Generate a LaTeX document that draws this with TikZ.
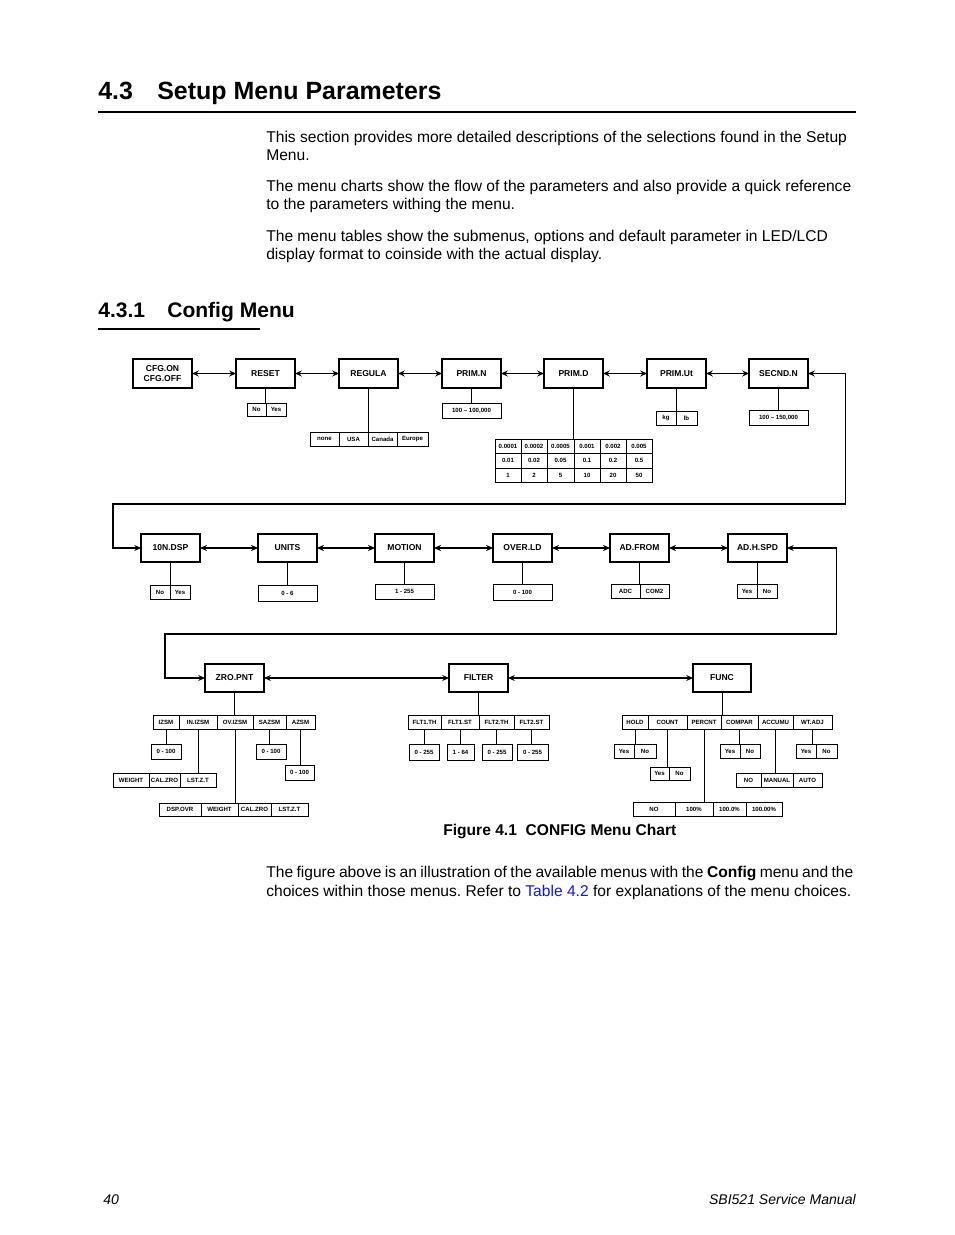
\documentclass[tikz,border=0pt]{standalone}
\usepackage{fontspec}
\setmainfont{Liberation Sans}
\usetikzlibrary{arrows.meta}
\definecolor{tblue}{RGB}{20,20,230}
\def\pxu{0.6414pt}
\frenchspacing
\newcommand\bx[7]{\node[#1, minimum width={(#5-#3)*\pxu}, minimum height={(#6-#4)*\pxu}] (#2) at ({(#3+#5)/2},{(#4+#6)/2}) {#7};}
\tikzset{
  mainbox/.style={draw, line width=0.85pt, inner sep=0pt, outer sep=0pt, align=center, font=\bfseries\fontsize{5.5}{6.4}\selectfont},
  cell/.style={draw, line width=0.55pt, inner sep=0pt, outer sep=0pt, font=\bfseries\fontsize{3.9}{4.5}\selectfont},
  arr/.style={{Stealth[length=4.3pt,width=3.8pt]}-{Stealth[length=4.3pt,width=3.8pt]}, line width=0.65pt},
  arrthick/.style={{Stealth[length=4.5pt,width=4pt]}-{Stealth[length=4.5pt,width=4pt]}, line width=1.2pt},
  sub/.style={line width=0.6pt},
  txt/.style={anchor=base west, inner sep=0pt, font=\fontsize{10}{12}\selectfont},
  h1/.style={anchor=base west, inner sep=0pt, font=\bfseries\fontsize{16}{19}\selectfont},
  h2/.style={anchor=base west, inner sep=0pt, font=\bfseries\fontsize{13.5}{16}\selectfont},
}
\begin{document}
\begin{tikzpicture}[x=\pxu, y=-\pxu]
\path[use as bounding box, fill=white] (0,0) rectangle (954,1235);

% headings and text
\node[h1] (h1num) at (98,100) {4.3};
\node[h1] (h1txt) at (157,100) {Setup Menu Parameters};
\draw[line width=1.6pt] (98,112) -- (856,112);
\node[txt] (p1a) at (266,143) {This section provides more detailed descriptions of the selections found in the Setup};
\node[txt] (p1b) at (266,161) {Menu.};
\node[txt] (p2a) at (266,192) {The menu charts show the flow of the parameters and also provide a quick reference};
\node[txt] (p2b) at (266,210) {to the parameters withing the menu.};
\node[txt] (p3a) at (266,242) {The menu tables show the submenus, options and default parameter in LED/LCD};
\node[txt] (p3b) at (266,260) {display format to coinside with the actual display.};
\node[h2] (h2num) at (98,318) {4.3.1};
\node[h2] (h2txt) at (167,318) {Config Menu};
\draw[line width=0.8pt] (98,329) -- (260,329);

% ---------- Row 1 ----------
\bx{mainbox}{cfg}{133}{359}{192}{388}{CFG.ON\\CFG.OFF}
\bx{mainbox}{reset}{236}{359}{295}{388}{RESET}
\bx{mainbox}{regula}{339}{359}{398}{388}{REGULA}
\bx{mainbox}{primn}{442}{359}{501}{388}{PRIM.N}
\bx{mainbox}{primd}{544}{359}{603}{388}{PRIM.D}
\bx{mainbox}{primut}{647}{359}{706}{388}{PRIM.Ut}
\bx{mainbox}{secndn}{749}{359}{808}{388}{SECND.N}

\bx{cell}{rsNo}{247}{403}{266}{416}{No}
\bx{cell}{rsYes}{266}{403}{286}{416}{Yes}
\bx{cell}{rgNone}{310}{432}{339}{446}{none}
\bx{cell}{rgUSA}{339}{432}{368}{446}{USA}
\bx{cell}{rgCan}{368}{432}{397}{446}{Canada}
\bx{cell}{rgEur}{397}{432}{428}{446}{Europe}
\bx{cell}{pnR}{442}{403}{501}{418}{100 – 100,000}
\bx{cell}{pd11}{495}{439}{521}{453}{0.0001}
\bx{cell}{pd12}{521}{439}{547}{453}{0.0002}
\bx{cell}{pd13}{547}{439}{574}{453}{0.0005}
\bx{cell}{pd14}{574}{439}{600}{453}{0.001}
\bx{cell}{pd15}{600}{439}{626}{453}{0.002}
\bx{cell}{pd16}{626}{439}{652}{453}{0.005}
\bx{cell}{pd21}{495}{453}{521}{468}{0.01}
\bx{cell}{pd22}{521}{453}{547}{468}{0.02}
\bx{cell}{pd23}{547}{453}{574}{468}{0.05}
\bx{cell}{pd24}{574}{453}{600}{468}{0.1}
\bx{cell}{pd25}{600}{453}{626}{468}{0.2}
\bx{cell}{pd26}{626}{453}{652}{468}{0.5}
\bx{cell}{pd31}{495}{468}{521}{482}{1}
\bx{cell}{pd32}{521}{468}{547}{482}{2}
\bx{cell}{pd33}{547}{468}{574}{482}{5}
\bx{cell}{pd34}{574}{468}{600}{482}{10}
\bx{cell}{pd35}{600}{468}{626}{482}{20}
\bx{cell}{pd36}{626}{468}{652}{482}{50}
\bx{cell}{puKg}{656}{411}{676}{425}{kg}
\bx{cell}{puLb}{676}{411}{697}{425}{lb}
\bx{cell}{snR}{749}{410}{808}{425}{100 – 150,000}

\draw[arr] (cfg.east) -- (reset.west);
\draw[arr] (reset.east) -- (regula.west);
\draw[arr] (regula.east) -- (primn.west);
\draw[arr] (primn.east) -- (primd.west);
\draw[arr] (primd.east) -- (primut.west);
\draw[arr] (primut.east) -- (secndn.west);

\draw[sub] (reset.south) -- (reset.south |- rsNo.north);
\draw[sub] (regula.south) -- (regula.south |- rgNone.north);
\draw[sub] (primn.south) -- (primn.south |- pnR.north);
\draw[sub] (primd.south) -- (primd.south |- pd11.north);
\draw[sub] (primut.south) -- (primut.south |- puKg.north);
\draw[sub] (secndn.south) -- (secndn.south |- snR.north);

% ---------- Row 2 ----------
\bx{mainbox}{tendsp}{141}{534}{200}{562}{10N.DSP}
\bx{mainbox}{units}{258}{534}{317}{562}{UNITS}
\bx{mainbox}{motion}{375}{534}{434}{562}{MOTION}
\bx{mainbox}{overld}{493}{534}{552}{562}{OVER.LD}
\bx{mainbox}{adfrom}{610}{534}{669}{562}{AD.FROM}
\bx{mainbox}{adhspd}{728}{534}{787}{562}{AD.H.SPD}

\bx{cell}{tdNo}{150}{585}{170}{599}{No}
\bx{cell}{tdYes}{170}{585}{190}{599}{Yes}
\bx{cell}{unR}{258}{585}{317}{601}{0 - 6}
\bx{cell}{moR}{375}{584}{434}{599}{1 - 255}
\bx{cell}{olR}{493}{584}{552}{600}{0 - 100}
\bx{cell}{afADC}{611}{584}{640}{598}{ADC}
\bx{cell}{afCOM}{640}{584}{669}{598}{COM2}
\bx{cell}{ahYes}{737}{584}{757}{598}{Yes}
\bx{cell}{ahNo}{757}{584}{777}{598}{No}

\coordinate (l1a) at (845,504);
\coordinate (l1b) at (113,504);
\draw[arr] (secndn.east) -| (l1a) -- (l1b) |- (tendsp.west);

\draw[arrthick] (tendsp.east) -- (units.west);
\draw[arrthick] (units.east) -- (motion.west);
\draw[arrthick] (motion.east) -- (overld.west);
\draw[arrthick] (overld.east) -- (adfrom.west);
\draw[arrthick] (adfrom.east) -- (adhspd.west);

\draw[sub] (tendsp.south) -- (tendsp.south |- tdNo.north);
\draw[sub] (units.south) -- (units.south |- unR.north);
\draw[sub] (motion.south) -- (motion.south |- moR.north);
\draw[sub] (overld.south) -- (overld.south |- olR.north);
\draw[sub] (adfrom.south) -- (adfrom.south |- afADC.north);
\draw[sub] (adhspd.south) -- (adhspd.south |- ahYes.north);

% ---------- Row 3 ----------
\bx{mainbox}{zro}{205}{664}{264}{692}{ZRO.PNT}
\bx{mainbox}{filter}{449}{664}{508}{692}{FILTER}
\bx{mainbox}{func}{693}{664}{751}{692}{FUNC}

\coordinate (l2a) at (836,634);
\coordinate (l2b) at (165,634);
\draw[arr] (adhspd.east) -| (l2a) -- (l2b) |- (zro.west);

\draw[arr] (zro.east) -- (filter.west);
\draw[arr] (filter.east) -- (func.west);

% ZRO.PNT subtree
\bx{cell}{izsm}{153}{715}{179}{729}{IZSM}
\bx{cell}{inizsm}{179}{715}{217}{729}{IN.IZSM}
\bx{cell}{ovizsm}{217}{715}{253}{729}{OV.IZSM}
\bx{cell}{sazsm}{253}{715}{286}{729}{SAZSM}
\bx{cell}{azsm}{286}{715}{315}{729}{AZSM}
\bx{cell}{zA}{151}{744}{181}{759}{0 - 100}
\bx{cell}{inW}{113}{773}{149}{787}{WEIGHT}
\bx{cell}{inC}{149}{773}{180}{787}{CAL.ZRO}
\bx{cell}{inL}{180}{773}{216}{787}{LST.Z.T}
\bx{cell}{ovD}{159}{803}{201}{816}{DSP.OVR}
\bx{cell}{ovW}{201}{803}{238}{816}{WEIGHT}
\bx{cell}{ovC}{238}{803}{271}{816}{CAL.ZRO}
\bx{cell}{ovL}{271}{803}{308}{816}{LST.Z.T}
\bx{cell}{zB}{256}{744}{286}{759}{0 - 100}
\bx{cell}{zC}{285}{765}{314}{780}{0 - 100}

\draw[sub] (zro.south) -- (zro.south |- izsm.north);
\draw[sub] (izsm.south) -- (izsm.south |- zA.north);
\draw[sub] (inizsm.south) -- (inizsm.south |- inW.north);
\draw[sub] (ovizsm.south) -- (ovizsm.south |- ovD.north);
\draw[sub] (sazsm.south) -- (sazsm.south |- zB.north);
\draw[sub] (azsm.south) -- (azsm.south |- zC.north);

% FILTER subtree
\bx{cell}{fA}{408}{715}{441}{729}{FLT1.TH}
\bx{cell}{fB}{441}{715}{479}{729}{FLT1.ST}
\bx{cell}{fC}{479}{715}{514}{729}{FLT2.TH}
\bx{cell}{fD}{514}{715}{549}{729}{FLT2.ST}
\bx{cell}{fAr}{409}{744}{439}{760}{0 - 255}
\bx{cell}{fBr}{447}{744}{474}{760}{1 - 64}
\bx{cell}{fCr}{482}{744}{512}{760}{0 - 255}
\bx{cell}{fDr}{517}{744}{548}{760}{0 - 255}

\draw[sub] (filter.south) -- (filter.south |- fA.north);
\draw[sub] (fA.south) -- (fA.south |- fAr.north);
\draw[sub] (fB.south) -- (fB.south |- fBr.north);
\draw[sub] (fC.south) -- (fC.south |- fCr.north);
\draw[sub] (fD.south) -- (fD.south |- fDr.north);

% FUNC subtree
\bx{cell}{hold}{622}{715}{648}{729}{HOLD}
\bx{cell}{count}{648}{715}{687}{729}{COUNT}
\bx{cell}{percnt}{687}{715}{721}{729}{PERCNT}
\bx{cell}{compar}{721}{715}{758}{729}{COMPAR}
\bx{cell}{accumu}{758}{715}{793}{729}{ACCUMU}
\bx{cell}{wtadj}{793}{715}{832}{729}{WT.ADJ}
\bx{cell}{hoYes}{614}{744}{634}{758}{Yes}
\bx{cell}{hoNo}{634}{744}{656}{758}{No}
\bx{cell}{coYes}{650}{767}{669}{780}{Yes}
\bx{cell}{coNo}{669}{767}{690}{780}{No}
\bx{cell}{peNO}{633}{802}{675}{816}{NO}
\bx{cell}{peA}{675}{802}{713}{816}{100\%}
\bx{cell}{peB}{713}{802}{746}{816}{100.0\%}
\bx{cell}{peC}{746}{802}{782}{816}{100.00\%}
\bx{cell}{cmYes}{720}{744}{740}{758}{Yes}
\bx{cell}{cmNo}{740}{744}{760}{758}{No}
\bx{cell}{acNO}{736}{773}{761}{787}{NO}
\bx{cell}{acMan}{761}{773}{793}{787}{MANUAL}
\bx{cell}{acAuto}{793}{773}{822}{787}{AUTO}
\bx{cell}{wtYes}{796}{744}{816}{758}{Yes}
\bx{cell}{wtNo}{816}{744}{837}{758}{No}

\draw[sub] (func.south) -- (func.south |- hold.north);
\draw[sub] (hold.south) -- (hold.south |- hoYes.north);
\draw[sub] (count.south) -- (count.south |- coYes.north);
\draw[sub] (percnt.south) -- (percnt.south |- peNO.north);
\draw[sub] (compar.south) -- (compar.south |- cmYes.north);
\draw[sub] (accumu.south) -- (accumu.south |- acNO.north);
\draw[sub] (wtadj.south) -- (wtadj.south |- wtYes.north);

% caption and text below
\node[anchor=base west, inner sep=0pt, font=\bfseries\fontsize{10}{12}\selectfont] (cap) at (443,835) {Figure 4.1\ \ CONFIG Menu Chart};
\node[txt] (q1) at (266,877) {\spaceskip=2.2pt\relax The figure above is an illustration of the available menus with the \textbf{Config} menu and the};
\node[txt] (q2) at (266,896) {choices within those menus. Refer to \textcolor{tblue}{Table 4.2} for explanations of the menu choices.};

% footer
\node[anchor=base west, inner sep=0pt, font=\itshape\fontsize{9}{11}\selectfont] (pg) at (103,1204) {40};
\node[anchor=base east, inner sep=0pt, font=\itshape\fontsize{9}{11}\selectfont] (man) at (856,1204) {SBI521 Service Manual};
\end{tikzpicture}
\end{document}
